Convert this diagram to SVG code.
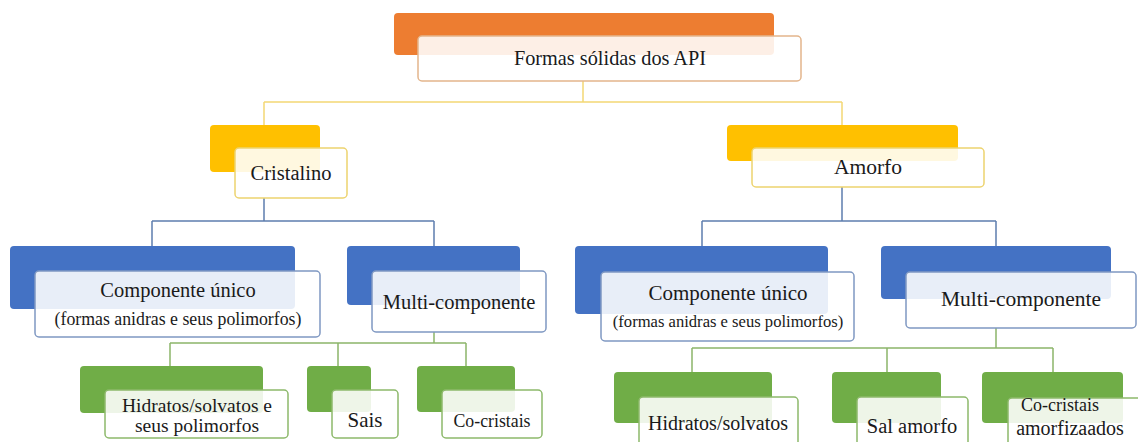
<svg xmlns="http://www.w3.org/2000/svg" width="1138" height="442" viewBox="0 0 1138 442" font-family="'Liberation Serif', 'Times New Roman', Times, serif">
<style>
text{font-family:'Liberation Serif','Times New Roman',Times,serif}
.t{fill:#1a1a1a;text-anchor:middle}
.w{fill:#fff;fill-opacity:0.88;stroke-width:1.5}
.wo{stroke:#E3B58C}.wy{stroke:#EDD36F}.wb{stroke:#7F98C2}.wg{stroke:#8DB96B}
.o{fill:#ED7D31}.y{fill:#FFC000}.b{fill:#4472C4}.g{fill:#70AD47}
.cy{stroke:#F3D874;fill:none;stroke-width:1.5}
.cb{stroke:#5D7DAE;fill:none;stroke-width:1.5}
.cg{stroke:#8CB56A;fill:none;stroke-width:1.5}
</style>
<rect width="1138" height="442" fill="#fff"/>
<g id="connectors">
<path class="cy" d="M583 81V102M264 102H842M264 102V125M842 102V125"/>
<path class="cb" d="M264 198V221M152 221H434M152 221V246M434 221V246"/>
<path class="cb" d="M842 187V221M702 221H996M702 221V246M996 221V246"/>
<path class="cg" d="M434 332V343M170 343H466M170 343V366M338 343V366M466 343V366"/>
<path class="cg" d="M996 328V348M692 348H1053M692 348V372M887 348V372M1053 348V372"/>
</g>
<g id="root">
<rect class="o" x="394" y="13" width="380" height="42" rx="4"/>
<rect class="w wo" x="418" y="36" width="383" height="45" rx="4"/>
<text class="t" x="610" y="65" font-size="20.3">Formas sólidas dos API</text>
</g>
<g id="cristalino">
<rect class="y" x="210" y="125" width="110" height="47" rx="4"/>
<rect class="w wy" x="235" y="148" width="112" height="50" rx="4"/>
<text class="t" x="291" y="180" font-size="20.5">Cristalino</text>
</g>
<g id="amorfo">
<rect class="y" x="727" y="125" width="231" height="36" rx="4"/>
<rect class="w wy" x="752" y="148" width="232" height="39" rx="4"/>
<text class="t" x="868" y="174" font-size="21.5">Amorfo</text>
</g>
<g id="cris-unico">
<rect class="b" x="10" y="246" width="285" height="63" rx="4"/>
<rect class="w wb" x="35" y="271" width="285" height="66" rx="4"/>
<text class="t" x="178" y="297" font-size="20.5">Componente único</text>
<text class="t" x="178" y="325" font-size="17.8">(formas anidras e seus polimorfos)</text>
</g>
<g id="cris-multi">
<rect class="b" x="347" y="246" width="173" height="59" rx="4"/>
<rect class="w wb" x="372" y="271" width="174" height="61" rx="4"/>
<text class="t" x="459" y="309" font-size="20.5">Multi-componente</text>
</g>
<g id="amor-unico">
<rect class="b" x="575" y="246" width="253" height="68" rx="4"/>
<rect class="w wb" x="601" y="272" width="253" height="69" rx="4"/>
<text class="t" x="728" y="300" font-size="21">Componente único</text>
<text class="t" x="728" y="327" font-size="16.6">(formas anidras e seus polimorfos)</text>
</g>
<g id="amor-multi">
<rect class="b" x="881" y="246" width="230" height="53" rx="4"/>
<rect class="w wb" x="906" y="272" width="230" height="56" rx="4"/>
<text class="t" x="1021" y="306" font-size="21.5">Multi-componente</text>
</g>
<g id="cris-hidratos">
<rect class="g" x="80" y="366" width="183" height="47" rx="4"/>
<rect class="w wg" x="105" y="390" width="183" height="48" rx="4"/>
<text class="t" x="197" y="412" font-size="19.5">Hidratos/solvatos e</text>
<text class="t" x="197" y="432" font-size="19.5">seus polimorfos</text>
</g>
<g id="cris-sais">
<rect class="g" x="307" y="366" width="64" height="46" rx="4"/>
<rect class="w wg" x="332" y="390" width="66" height="48" rx="4"/>
<text class="t" x="365" y="427" font-size="21">Sais</text>
</g>
<g id="cris-cocristais">
<rect class="g" x="417" y="366" width="98" height="46" rx="4"/>
<rect class="w wg" x="442" y="390" width="100" height="48" rx="4"/>
<text class="t" x="492" y="427" font-size="17.8">Co-cristais</text>
</g>
<g id="amor-hidratos">
<rect class="g" x="614" y="372" width="158" height="51" rx="4"/>
<rect class="w wg" x="639" y="397" width="159" height="52" rx="4"/>
<text class="t" x="718" y="430" font-size="20">Hidratos/solvatos</text>
</g>
<g id="amor-sal">
<rect class="g" x="832" y="372" width="109" height="51" rx="4"/>
<rect class="w wg" x="857" y="397" width="111" height="52" rx="4"/>
<text class="t" x="912" y="433" font-size="20.5">Sal amorfo</text>
</g>
<g id="amor-cocristais">
<rect class="g" x="982" y="372" width="141" height="51" rx="4"/>
<rect class="w wg" x="1008" y="398" width="140" height="52" rx="4"/>
<text class="t" x="1060" y="411" font-size="18">Co-cristais</text>
<text class="t" x="1070" y="435" font-size="20">amorfizaados</text>
</g>
</svg>
